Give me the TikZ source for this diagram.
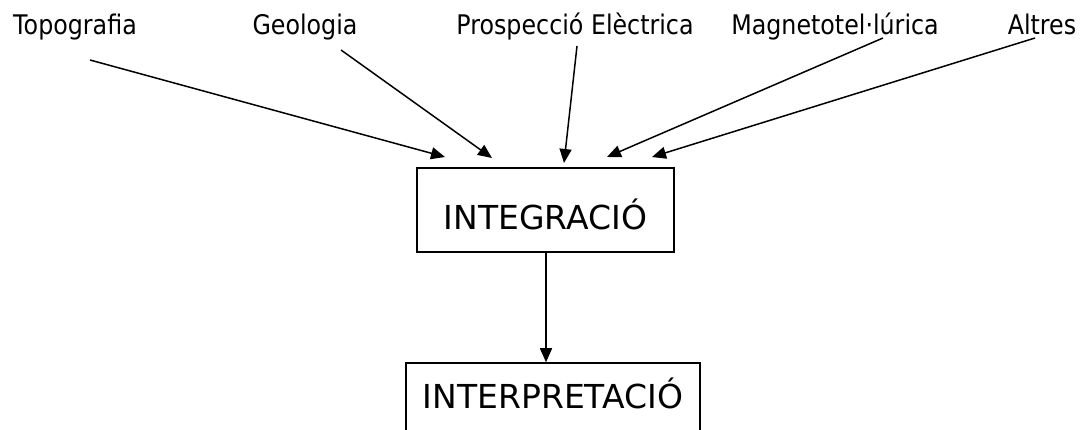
\documentclass[tikz,border=0pt]{standalone}
\usepackage{fontspec}
\setmainfont{DejaVu Sans}[FakeStretch=0.88]
\newfontfamily\boxfont{DejaVu Sans}
\usetikzlibrary{arrows.meta}

\begin{document}
\begin{tikzpicture}[x=1pt,y=-1pt,
  font=\fontsize{27}{32}\selectfont,
  label/.style={anchor=base,inner sep=0pt},
  box/.style={draw,line width=1.5pt,font=\boxfont\fontsize{33}{38}\selectfont,text depth=0pt},
  feed/.style={line width=1.5pt,-{Triangle[length=14pt,width=12pt]}}]
\useasboundingbox (0,0) rectangle (1085,430);

\node[label] (topo) at (75,35) {Topografia};
\node[label] (geo) at (305,35) {Geologia};
\node[label] (elec) at (575,35) {Prospecció Elèctrica};
\node[label] (mt) at (835,35) {Magnetotel·lúrica};
\node[label] (alt) at (1042,35) {Altres};

\node[box,minimum width=257,minimum height=84,text height=40pt] (integ) at (545.5,210) {INTEGRACIÓ};
\node[box,minimum width=294,minimum height=69,text height=23pt] (interp) at (553,397.5) {INTERPRETACIÓ};

% where the lines leave the labels and where the tips stop
\coordinate (topo-s) at (90,60);
\coordinate (geo-s) at (341,50);
\coordinate (elec-s) at (577,46);
\coordinate (mt-s) at (883,38);
\coordinate (alt-s) at (1035,38);
\coordinate (in1) at (445,157);
\coordinate (in2) at (492,158);
\coordinate (in3) at (564,163);
\coordinate (in4) at (607,157);
\coordinate (in5) at (652,157);

\draw[feed] (topo-s) -- (in1);
\draw[feed] (geo-s) -- (in2);
\draw[feed] (elec-s) -- (in3);
\draw[feed] (mt-s) -- (in4);
\draw[feed] (alt-s) -- (in5);
\draw[feed] (integ.south -| 546,0) -- (interp.north -| 546,0);
\end{tikzpicture}
\end{document}
